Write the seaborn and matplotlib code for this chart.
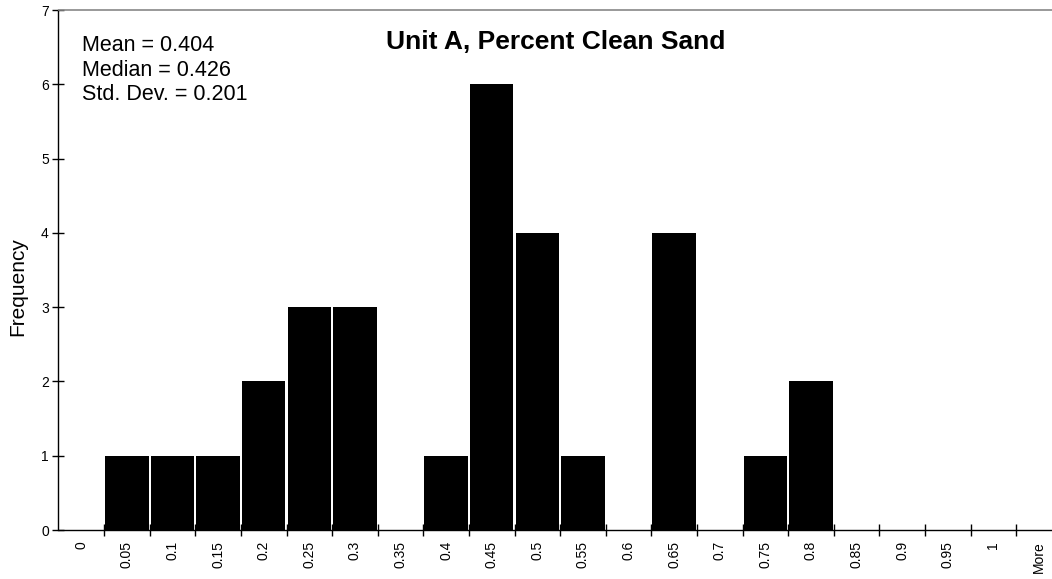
import matplotlib
matplotlib.use("Agg")
import matplotlib.pyplot as plt
import seaborn as sns
import pandas as pd
import numpy as np
from matplotlib.ticker import FixedLocator

bins = ["0", "0.05", "0.1", "0.15", "0.2", "0.25", "0.3", "0.35", "0.4", "0.45",
        "0.5", "0.55", "0.6", "0.65", "0.7", "0.75", "0.8", "0.85", "0.9", "0.95",
        "1", "More"]
frequency = [0, 1, 1, 1, 2, 3, 3, 0, 1, 6, 4, 1, 0, 4, 0, 1, 2, 0, 0, 0, 0, 0]
stats_text = ["Mean = 0.404", "Median = 0.426", "Std. Dev. = 0.201"]
title = "Unit A, Percent Clean Sand"

sns.set_style("white")
plt.rcParams['font.family'] = ['Liberation Sans', 'DejaVu Sans']
plt.rcParams['text.color'] = 'black'
plt.rcParams['axes.labelcolor'] = 'black'

df = pd.DataFrame({"bin": bins, "freq": frequency})

fig = plt.figure(figsize=(10.52, 5.79), dpi=100)
ax = fig.add_axes([58.5 / 1052, 49 / 579, 22 * 45.6 / 1052, 520 / 579])

sns.barplot(data=df, x="bin", y="freq", order=bins, color="black",
            width=0.95, saturation=1, ax=ax, edgecolor="none")

ax.set_xlim(-0.5, len(bins) - 0.5)
ax.set_ylim(0, 7)
ax.set_yticks(range(0, 8))
ax.tick_params(axis="y", which="major", left=True, direction="inout", length=8,
               width=1, labelsize=10, colors="black", pad=3)
# category labels at centers, tick marks at boundaries
ax.set_xticks(range(len(bins)))
ax.set_xticklabels(bins, rotation=90)
ax.tick_params(axis="x", which="major", bottom=True, length=0, pad=8,
               labelsize=10, labelcolor="black")
ax.xaxis.set_minor_locator(FixedLocator(np.arange(0.5, len(bins) - 0.5, 1)))
ax.tick_params(axis="x", which="minor", bottom=True, direction="inout",
               length=8, width=1, color="black")

ax.set_xlabel("")
ax.set_ylabel("Frequency", fontsize=15, color="black")
ax.yaxis.set_label_coords((27 - 58.5) / 1003, (530 - 287) / 520)

for s in ["left", "bottom"]:
    ax.spines[s].set_color("black")
    ax.spines[s].set_linewidth(1)
ax.spines["top"].set_color("#888888")
ax.spines["top"].set_linewidth(1.2)
ax.spines["right"].set_visible(False)

ax.text((555.5 - 58.5) / 1003, (530 - 42) / 520, title, transform=ax.transAxes,
        ha="center", va="center", fontsize=19, fontweight="bold", color="black")
ax.text((82 - 58.5) / 1003, (530 - 70) / 520, "\n".join(stats_text),
        transform=ax.transAxes, ha="left", va="center", fontsize=15.5,
        linespacing=1.22, color="black")

fig.savefig("out.png", dpi=100)
